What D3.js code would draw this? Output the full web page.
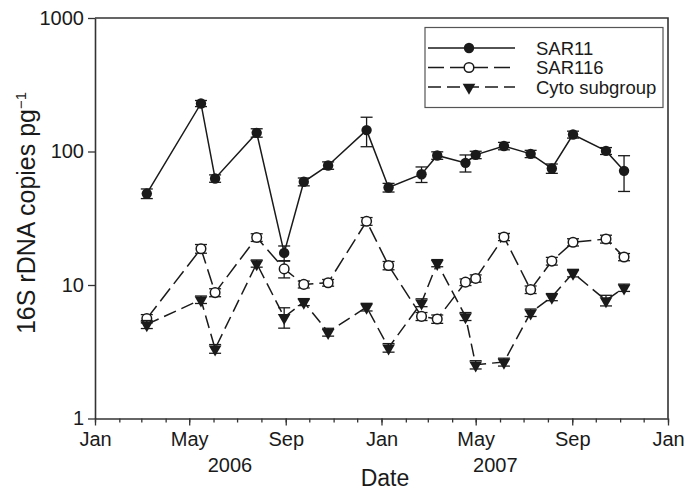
<!DOCTYPE html>
<html><head><meta charset="utf-8">
<script src="https://cdn.jsdelivr.net/npm/d3@7"></script>
<style>
html,body{margin:0;padding:0;background:#fff;}
svg{display:block;font-family:"Liberation Sans",Arial,Helvetica,sans-serif;}
</style></head>
<body><svg id="c" width="684" height="492"></svg>
<script>
const dates = ["2006-03-08","2006-05-16","2006-06-03","2006-07-26","2006-08-30","2006-09-24","2006-10-25","2006-12-13","2007-01-10","2007-02-21","2007-03-13","2007-04-18","2007-05-01","2007-06-06","2007-07-10","2007-08-06","2007-09-02","2007-10-14","2007-11-06"];
const sar11 = [48.4,229,62.8,138,17.4,59.3,78.6,144.6,53.7,67.6,93.4,82.2,94.4,110,96,74.6,134,101,71.6];
const sar11Err = [4,12,4,10,2.2,4,5,36,4,9,6,12,6,7,6,6,8,6,21.4];
const sar116 = [5.6,18.7,8.77,22.7,13.2,10.1,10.4,30.0,14.0,5.82,5.56,10.5,11.2,22.9,9.23,15.1,20.9,22.1,16.2];
const sar116Err = [0.4,1.4,0.6,1.5,1.9,0.6,0.6,2.0,1.0,0.4,0.4,0.6,0.7,1.4,0.6,1.0,1.3,1.5,1.0];
const cyto = [5.07,7.77,3.33,14.5,5.75,7.46,4.44,6.84,3.39,7.38,14.6,5.82,2.53,2.65,6.21,8.13,12.3,7.67,9.55];
const cytoErr = [0.35,0.5,0.25,0.9,1.0,0.45,0.3,0.45,0.25,0.5,0.9,0.4,0.18,0.18,0.4,0.5,0.8,0.7,0.6];
const seriesNames = ["SAR11","SAR116","Cyto subgroup"];
const yTicks = [1,10,100,1000];
const majorMonths = ["2006-01-01","2006-05-01","2006-09-01","2007-01-01","2007-05-01","2007-09-01","2008-01-01"];
const yearLabels = [["2006","2006-06-22"],["2007","2007-05-26"]];

const svg = d3.select("#c");
const L=95, R=668, T=18, B=418.5;
const ink = "#1a1a1a";
const parse = d3.utcParse("%Y-%m-%d");
const x = d3.scaleUtc().domain([parse("2006-01-01"), parse("2008-01-01")]).range([L,R]);
const y = d3.scaleLog().domain([1,1000]).range([B,T]);

// frame (top/right)
svg.append("path").attr("d",`M${L},${T}H${R}V${B}`).attr("fill","none").attr("stroke","#333").attr("stroke-width",1.6);

// y axis
const ya = svg.append("g").attr("transform",`translate(${L},0)`)
  .call(d3.axisLeft(y).tickValues(yTicks).tickFormat(d3.format("d")).tickSizeInner(7).tickSizeOuter(0).tickPadding(4));
ya.select(".domain").attr("stroke","#333").attr("stroke-width",1.6);
ya.selectAll(".tick line").attr("stroke","#333").attr("stroke-width",1.3);
ya.selectAll("text").attr("font-size",20).attr("fill",ink).attr("font-family","Liberation Sans, Arial, sans-serif");

// x axis minor
const xm = svg.append("g").attr("transform",`translate(0,${B})`)
  .call(d3.axisBottom(x).ticks(d3.utcMonth.every(1)).tickFormat("").tickSizeInner(4).tickSizeOuter(0));
xm.select(".domain").remove();
xm.selectAll(".tick line").attr("stroke","#333").attr("stroke-width",1.3);
const xa = svg.append("g").attr("transform",`translate(0,${B})`)
  .call(d3.axisBottom(x).tickValues(majorMonths.map(parse)).tickFormat(d3.utcFormat("%b")).tickSizeInner(7).tickSizeOuter(0).tickPadding(6));
xa.select(".domain").attr("stroke","#333").attr("stroke-width",1.6);
xa.selectAll(".tick line").attr("stroke","#333").attr("stroke-width",1.3);
xa.selectAll("text").attr("font-size",20).attr("fill",ink).attr("font-family","Liberation Sans, Arial, sans-serif");

svg.selectAll(".yr").data(yearLabels).join("text").attr("class","yr")
  .attr("x",d=>x(parse(d[1]))).attr("y",472).attr("text-anchor","middle")
  .attr("font-size",20).attr("fill",ink).text(d=>d[0]);
svg.append("text").attr("x",385).attr("y",486).attr("text-anchor","middle").attr("font-size",23).attr("fill",ink).text("Date");
const yl = svg.append("text").attr("transform","translate(35,213) rotate(-90)").attr("text-anchor","middle").attr("font-size",25).attr("fill",ink);
yl.append("tspan").text("16S rDNA copies pg");
yl.append("tspan").attr("dy",-9).attr("font-size",15).text("\u22121");

const series = [
  {name:seriesNames[0], vals:sar11, err:sar11Err, dash:null, sym:"fcircle"},
  {name:seriesNames[1], vals:sar116, err:sar116Err, dash:"16,6", sym:"ocircle"},
  {name:seriesNames[2], vals:cyto, err:cytoErr, dash:"13,6", sym:"tri"}
];
const line = d3.line().x(d=>x(d.d)).y(d=>y(d.v));
const tri = d3.symbol().type(d3.symbolTriangle).size(70)();

function drawMarker(g, sym, cx, cy){
  if(sym==="fcircle") g.append("circle").attr("cx",cx).attr("cy",cy).attr("r",5.2).attr("fill",ink);
  else if(sym==="ocircle") g.append("circle").attr("cx",cx).attr("cy",cy).attr("r",4.8).attr("fill","#fff").attr("stroke",ink).attr("stroke-width",1.5);
  else g.append("path").attr("d",tri).attr("transform",`translate(${cx},${cy+0.5}) rotate(180)`).attr("fill",ink);
}

series.forEach(s=>{
  const pts = dates.map((d,i)=>({d:parse(d), v:s.vals[i], e:s.err[i]}));
  const g = svg.append("g");
  g.append("path").datum(pts).attr("d",line).attr("fill","none").attr("stroke",ink).attr("stroke-width",1.5)
    .attr("stroke-dasharray",s.dash);
  pts.forEach(p=>{
    const cx=x(p.d), y1=y(p.v+p.e), y2=y(p.v-p.e);
    g.append("line").attr("x1",cx).attr("x2",cx).attr("y1",y1).attr("y2",y2).attr("stroke",ink).attr("stroke-width",1.3);
    [y1,y2].forEach(yy=>g.append("line").attr("x1",cx-6).attr("x2",cx+6).attr("y1",yy).attr("y2",yy).attr("stroke",ink).attr("stroke-width",1.3));
  });
  pts.forEach(p=>drawMarker(g, s.sym, x(p.d), y(p.v)));
});

// legend
const lg = svg.append("g");
lg.append("rect").attr("x",425).attr("y",27.5).attr("width",238).attr("height",80).attr("fill","#fff").attr("stroke","#555").attr("stroke-width",1.2);
const rowsY=[48,67.5,87];
series.forEach((s,i)=>{
  lg.append("line").attr("x1",428).attr("x2",515).attr("y1",rowsY[i]).attr("y2",rowsY[i]).attr("stroke",ink).attr("stroke-width",1.5).attr("stroke-dasharray",s.dash);
  drawMarker(lg, s.sym, 469, rowsY[i]);
  lg.append("text").attr("x",536).attr("y",rowsY[i]+6.5).attr("font-size",18.5).attr("fill",ink).text(s.name);
});
</script></body></html>
